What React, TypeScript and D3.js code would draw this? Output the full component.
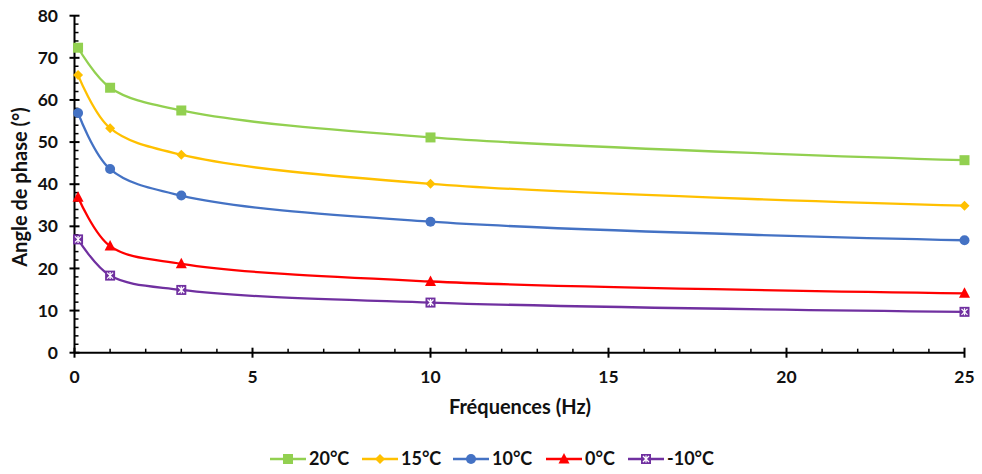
import React from "react";
import * as d3 from "d3";

const frequencies = [0.1, 1, 3, 10, 25];
const seriesNames = ["20°C", "15°C", "10°C", "0°C", "-10°C"];
const values20 = [72.4, 62.9, 57.5, 51.1, 45.7];
const values15 = [65.9, 53.3, 47.0, 40.1, 34.9];
const values10 = [56.9, 43.6, 37.3, 31.1, 26.7];
const values0 = [36.9, 25.3, 21.1, 16.9, 14.1];
const valuesM10 = [26.9, 18.3, 14.9, 11.9, 9.7];
const colors = ["#92D050", "#FFC000", "#4472C4", "#FF0000", "#7030A0"];
const markers = ["square", "diamond", "circle", "triangle", "star"];
const xTicks = [0, 5, 10, 15, 20, 25];
const yTicks = [0, 10, 20, 30, 40, 50, 60, 70, 80];

const W = 982;
const H = 474;
const FONT = "Lato, 'Open Sans', sans-serif";

function Marker({ type, color, x, y }: { type: string; color: string; x: number; y: number }) {
  if (type === "square") return <rect x={x - 5} y={y - 5} width={10} height={10} fill={color} />;
  if (type === "diamond")
    return <path d={`M${x},${y - 5}L${x + 5},${y}L${x},${y + 5}L${x - 5},${y}Z`} fill={color} />;
  if (type === "circle") return <circle cx={x} cy={y} r={5} fill={color} />;
  if (type === "triangle")
    return <path d={`M${x},${y - 6}L${x + 5.5},${y + 4.5}L${x - 5.5},${y + 4.5}Z`} fill={color} />;
  return (
    <g>
      <rect x={x - 5} y={y - 5} width={10} height={10} fill={color} />
      <path
        d={`M${x - 3},${y - 3}L${x + 3},${y + 3}M${x + 3},${y - 3}L${x - 3},${y + 3}M${x},${y - 3.5}L${x},${y + 3.5}`}
        stroke="#fff"
        strokeWidth={1.3}
      />
    </g>
  );
}

export default function App() {
  const x = d3.scaleLinear().domain([0, 25]).range([74.5, 964.5]);
  const y = d3.scaleLinear().domain([0, 80]).range([352.7, 15.7]);
  const data = [values20, values15, values10, values0, valuesM10];
  const line = d3
    .line<[number, number]>()
    .x((d) => x(d[0]))
    .y((d) => y(d[1]))
    .curve(d3.curveCatmullRom.alpha(0.5));

  const yMinor = d3.range(0, 81, 2).filter((v) => v % 10 !== 0);
  const xMinor = d3.range(0, 26, 1).filter((v) => v % 5 !== 0);
  const legendX = [270, 362, 453, 546, 628];

  return (
    <svg width={W} height={H} style={{ position: "absolute", left: 0, top: 0, background: "#fff" }}>
      <rect width={W} height={H} fill="#fff" />
      {data.map((vals, i) => (
        <path
          key={i}
          d={line(frequencies.map((f, j) => [f, vals[j]] as [number, number])) || ""}
          fill="none"
          stroke={colors[i]}
          strokeWidth={2.3}
        />
      ))}
      <g stroke="#000" strokeWidth={2}>
        <line x1={x(0)} x2={x(0)} y1={y(80)} y2={y(0)} />
        <line x1={x(0)} x2={x(25)} y1={y(0)} y2={y(0)} />
        {yTicks.map((t) => (
          <line key={"yt" + t} x1={x(0) - 5} x2={x(0) + 5} y1={y(t)} y2={y(t)} />
        ))}
        {yMinor.map((t) => (
          <line key={"ym" + t} x1={x(0)} x2={x(0) + 4} y1={y(t)} y2={y(t)} strokeWidth={1.5} />
        ))}
        {xTicks.map((t) => (
          <line key={"xt" + t} x1={x(t)} x2={x(t)} y1={y(0) - 5} y2={y(0) + 5} />
        ))}
        {xMinor.map((t) => (
          <line key={"xm" + t} x1={x(t)} x2={x(t)} y1={y(0)} y2={y(0) - 4} strokeWidth={1.5} />
        ))}
      </g>
      {data.map((vals, i) =>
        frequencies.map((f, j) => (
          <Marker key={i + "-" + j} type={markers[i]} color={colors[i]} x={x(f)} y={y(vals[j])} />
        ))
      )}
      <g fontFamily={FONT} fontWeight="bold" fill="#111">
        {yTicks.map((t) => (
          <text key={"yl" + t} x={58} y={y(t)} dy="0.35em" textAnchor="end" fontSize={17.5}>
            {t}
          </text>
        ))}
        {xTicks.map((t) => (
          <text key={"xl" + t} x={x(t)} y={383} textAnchor="middle" fontSize={17.5}>
            {t}
          </text>
        ))}
        <text x={520} y={414} textAnchor="middle" fontSize={20}>
          Fréquences (Hz)
        </text>
        <text transform="translate(27,187) rotate(-90)" textAnchor="middle" fontSize={20}>
          Angle de phase (°)
        </text>
        {seriesNames.map((n, i) => (
          <g key={"lg" + i}>
            <line x1={legendX[i]} x2={legendX[i] + 36} y1={459} y2={459} stroke={colors[i]} strokeWidth={2.3} />
            <Marker type={markers[i]} color={colors[i]} x={legendX[i] + 18} y={459} />
            <text x={legendX[i] + 39} y={459} dy="0.35em" fontSize={18}>
              {n}
            </text>
          </g>
        ))}
      </g>
    </svg>
  );
}
